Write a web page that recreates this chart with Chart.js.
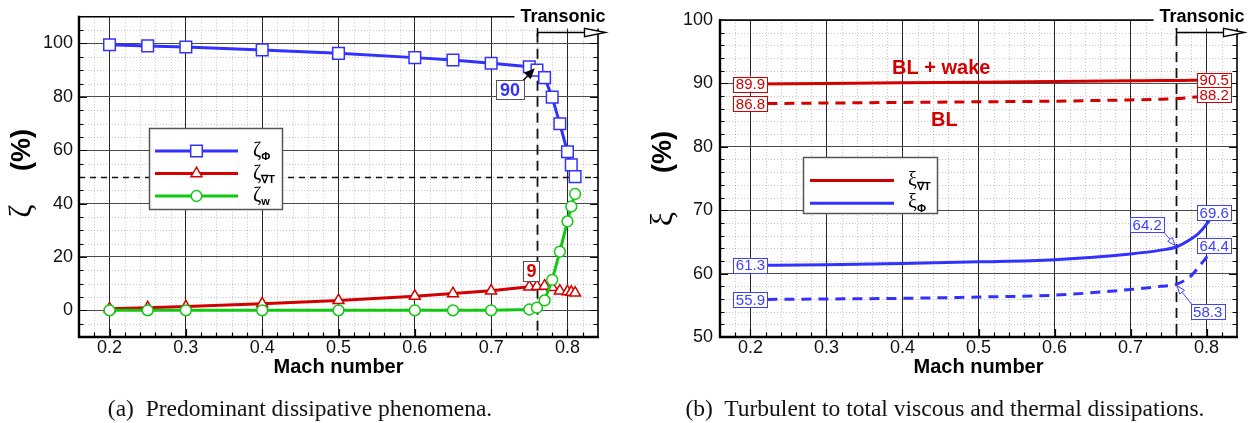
<!DOCTYPE html>
<html>
<head>
<meta charset="utf-8">
<script src="https://cdn.jsdelivr.net/npm/chart.js@4.4.1/dist/chart.umd.min.js"></script>
<style>
  html, body { margin: 0; padding: 0; background: #fff; }
  #wrap { position: relative; width: 1255px; height: 423px; overflow: hidden; }
  #wrap canvas { position: absolute; left: 0; top: 0; }
  .caption {
    position: absolute; top: 395px; white-space: pre; color: #111; line-height: 26px;
    font: 23.5px "Liberation Serif", "Times New Roman", serif;
    transform: translateX(-50%);
  }
</style>
</head>
<body>
<div id="wrap">
  <canvas id="zeta" width="1255" height="423"></canvas>
  <canvas id="xi" width="1255" height="423"></canvas>
  <div class="caption" style="left:300px">(a)  Predominant dissipative phenomena.</div>
  <div class="caption" style="left:945px">(b)  Turbulent to total viscous and thermal dissipations.</div>
</div>
<script>
// tick values
var machTicks = [0.2, 0.3, 0.4, 0.5, 0.6, 0.7, 0.8];
var zetaTicks = [0, 20, 40, 60, 80, 100];
var xiTicks   = [50, 60, 70, 80, 90, 100];

// (a) share of each dissipation mechanism, per computed Mach number
var machRuns  = [0.2, 0.25, 0.3, 0.4, 0.5, 0.6, 0.65, 0.7, 0.75, 0.76, 0.77, 0.78, 0.79, 0.8, 0.805, 0.81];
var zetaPhi   = [99.5, 99.1, 98.7, 97.6, 96.3, 94.7, 93.8, 92.6, 91.3, 90, 87.2, 79.9, 69.9, 59.4, 54.5, 50.1];
var zetaGradT = [0.6, 1.0, 1.4, 2.5, 3.7, 5.3, 6.3, 7.3, 8.8, 9, 9.1, 8.6, 7.3, 7.0, 6.8, 6.5];
var zetaWave  = [0, 0, 0, 0, 0, 0, 0, 0, 0.3, 1.0, 3.7, 11.4, 22.0, 33.3, 38.9, 43.6];

// (b) turbulent share of viscous / thermal dissipation
var machXi      = [0.2, 0.3, 0.4, 0.5, 0.6, 0.7, 0.74, 0.76, 0.78, 0.79, 0.8, 0.81];
var xiGradTWake = [89.9, 90.0, 90.1, 90.2, 90.3, 90.4, 90.45, 90.45, 90.5, 90.5, 90.5, 90.5];
var xiGradTBL   = [86.8, 86.9, 87.0, 87.1, 87.2, 87.4, 87.5, 87.6, 87.8, 87.9, 88.0, 88.2];
var xiPhiWake   = [61.3, 61.4, 61.6, 61.85, 62.2, 63.1, 63.7, 64.2, 65.5, 66.4, 67.8, 69.6];
var xiPhiBL     = [55.9, 56.0, 56.1, 56.3, 56.6, 57.5, 58.0, 58.3, 59.7, 61.1, 62.6, 64.4];

var transonicMach = 0.76;
var halfLevel = 50;

var BLUE  = '#3232ff';
var BLUE2 = '#4040ff';
var RED   = '#d40000';
var GREEN = '#12c812';
var SANS  = '"Liberation Sans", Arial, Helvetica, sans-serif';
var SERIF = '"Liberation Serif", "Times New Roman", serif';

Chart.defaults.font.family = SANS;

function pts(xs, ys) {
    return xs.map(function (v, i) { return { x: v, y: ys[i] }; });
}

function marker(ctx, style, r, x, y, color) {
    ctx.save();
    ctx.fillStyle = '#fff';
    ctx.strokeStyle = color;
    ctx.lineWidth = 1.5;
    ctx.beginPath();
    if (style === 'rect') {
        var s = r * Math.SQRT1_2;
        ctx.rect(x - s, y - s, 2 * s, 2 * s);
    } else if (style === 'triangle') {
        for (var k = 0; k < 3; k++) {
            var a = -Math.PI / 2 + k * 2 * Math.PI / 3;
            if (k === 0) ctx.moveTo(x + r * Math.cos(a), y + r * Math.sin(a));
            else ctx.lineTo(x + r * Math.cos(a), y + r * Math.sin(a));
        }
        ctx.closePath();
    } else {
        ctx.arc(x, y, r, 0, 2 * Math.PI);
    }
    ctx.fill();
    ctx.stroke();
    ctx.restore();
}

function tag(ctx, text, cx, cy, opts) {
    ctx.save();
    ctx.font = opts.font;
    var w = ctx.measureText(text).width + opts.pad * 2;
    var h = opts.h;
    ctx.fillStyle = '#fff';
    ctx.fillRect(cx - w / 2, cy - h / 2, w, h);
    ctx.strokeStyle = opts.border;
    ctx.lineWidth = 1;
    ctx.strokeRect(Math.round(cx - w / 2) + 0.5, Math.round(cy - h / 2) + 0.5, Math.round(w), Math.round(h));
    ctx.fillStyle = opts.color;
    ctx.textAlign = 'center';
    ctx.textBaseline = 'middle';
    ctx.fillText(text, cx, cy + 1);
    ctx.restore();
}

function arrow(ctx, x0, y0, x1, y1, color, open, len, half) {
    var ang = Math.atan2(y1 - y0, x1 - x0);
    var bx = x1 - len * Math.cos(ang), by = y1 - len * Math.sin(ang);
    ctx.save();
    ctx.strokeStyle = color;
    ctx.lineWidth = open ? 1 : 1.5;
    ctx.beginPath();
    ctx.moveTo(x0, y0);
    ctx.lineTo(bx, by);
    ctx.stroke();
    ctx.beginPath();
    ctx.moveTo(x1, y1);
    ctx.lineTo(bx + half * Math.sin(ang), by - half * Math.cos(ang));
    ctx.lineTo(bx - half * Math.sin(ang), by + half * Math.cos(ang));
    ctx.closePath();
    ctx.fillStyle = open ? '#fff' : color;
    ctx.fill();
    ctx.stroke();
    ctx.restore();
}

function symbolText(ctx, sym, sub, x, y) {
    ctx.save();
    ctx.fillStyle = '#000';
    ctx.textAlign = 'left';
    ctx.textBaseline = 'alphabetic';
    ctx.font = '20px ' + SERIF;
    ctx.fillText(sym, x, y + 5);
    var w = ctx.measureText(sym).width;
    ctx.font = 'bold 11px ' + SANS;
    ctx.fillText(sub, x + w, y + 9);
    ctx.restore();
}

function legendBox(ctx, box, datasets, line0, line1, textX, rowY, rowStep) {
    ctx.save();
    ctx.fillStyle = '#fff';
    ctx.fillRect(box.x, box.y, box.w, box.h);
    ctx.strokeStyle = '#555';
    ctx.lineWidth = 1.5;
    ctx.strokeRect(box.x, box.y, box.w, box.h);
    var row = 0;
    datasets.forEach(function (ds) {
        if (!ds.legendSym) return;
        var y = rowY + row * rowStep;
        ctx.strokeStyle = ds.borderColor;
        ctx.lineWidth = 3;
        ctx.beginPath();
        ctx.moveTo(line0, y);
        ctx.lineTo(line1, y);
        ctx.stroke();
        if (ds.pointRadius > 0) {
            marker(ctx, ds.pointStyle, ds.pointRadius, (line0 + line1) / 2, y, ds.borderColor);
        }
        symbolText(ctx, ds.legendSym, ds.legendSub, textX, y);
        row++;
    });
    ctx.restore();
}

function yTitle(ctx, x, sym, symY, unitY) {
    ctx.save();
    ctx.fillStyle = '#000';
    ctx.textAlign = 'center';
    ctx.textBaseline = 'middle';
    ctx.translate(x, unitY);
    ctx.rotate(-Math.PI / 2);
    ctx.font = 'bold 27px ' + SANS;
    ctx.fillText('(%)', 0, 0);
    ctx.restore();
    ctx.save();
    ctx.fillStyle = '#000';
    ctx.textAlign = 'center';
    ctx.textBaseline = 'middle';
    ctx.translate(x, symY);
    ctx.rotate(-Math.PI / 2);
    ctx.font = '32px ' + SERIF;
    ctx.fillText(sym, 0, 0);
    ctx.restore();
}

// minor dotted grid, inward ticks, reference lines, frame, transonic arrow
var plotFrame = {
    id: 'plotFrame',
    beforeDatasetsDraw: function (chart, args, o) {
        var ctx = chart.ctx, a = chart.chartArea;
        var x = chart.scales.x, y = chart.scales.y;
        var i, v, p;
        ctx.save();
        ctx.strokeStyle = 'rgba(0,0,0,0.22)';
        ctx.lineWidth = 1;
        ctx.setLineDash([1, 2]);
        ctx.beginPath();
        for (i = 9; i < 42; i++) {
            if (i % 5 === 0) continue;
            p = Math.round(x.getPixelForValue(i * 0.02)) + 0.5;
            ctx.moveTo(p, a.top); ctx.lineTo(p, a.bottom);
        }
        for (v = o.yMin + o.yMinor; v < o.yMax; v += o.yMinor) {
            if (v % o.yMajor === 0) continue;
            p = Math.round(y.getPixelForValue(v)) + 0.5;
            ctx.moveTo(a.left, p); ctx.lineTo(a.right, p);
        }
        ctx.stroke();
        ctx.setLineDash([]);

        // ticks pointing into the plot
        ctx.strokeStyle = '#000';
        ctx.lineWidth = 1.2;
        ctx.beginPath();
        for (i = 9; i < 42; i++) {
            p = Math.round(x.getPixelForValue(i * 0.02)) + 0.5;
            var lx = (i % 5 === 0) ? 8 : 4.5;
            ctx.moveTo(p, a.bottom); ctx.lineTo(p, a.bottom - lx);
        }
        for (v = o.yMin + o.yMinor; v < o.yMax; v += o.yMinor) {
            p = Math.round(y.getPixelForValue(v)) + 0.5;
            var ly = (v % o.yMajor === 0) ? 8 : 4.5;
            ctx.moveTo(a.left, p); ctx.lineTo(a.left + ly, p);
            ctx.moveTo(a.right, p); ctx.lineTo(a.right - ly, p);
        }
        ctx.stroke();

        // onset of transonic regime
        var px = Math.round(x.getPixelForValue(transonicMach)) + 0.5;
        ctx.strokeStyle = '#111';
        ctx.lineWidth = 1.8;
        ctx.setLineDash([10, 6]);
        ctx.beginPath();
        ctx.moveTo(px, a.top);
        ctx.lineTo(px, a.bottom);
        ctx.stroke();
        if (o.half) {
            var py = Math.round(y.getPixelForValue(halfLevel)) + 0.5;
            ctx.lineWidth = 1.3;
            ctx.setLineDash([6, 5]);
            ctx.beginPath();
            ctx.moveTo(a.left, py);
            ctx.lineTo(a.right, py);
            ctx.stroke();
        }
        ctx.restore();
    },
    afterDatasetsDraw: function (chart) {
        var ctx = chart.ctx, a = chart.chartArea;
        ctx.save();
        ctx.strokeStyle = '#000';
        ctx.lineWidth = 1.6;
        ctx.beginPath();
        ctx.moveTo(a.left, a.top); ctx.lineTo(a.right, a.top); ctx.lineTo(a.right, a.bottom);
        ctx.stroke();
        ctx.lineWidth = 2.4;
        ctx.beginPath();
        ctx.moveTo(a.left, a.top - 1); ctx.lineTo(a.left, a.bottom); ctx.lineTo(a.right + 1, a.bottom);
        ctx.stroke();
        ctx.restore();
    },
    afterDraw: function (chart) {
        var ctx = chart.ctx, a = chart.chartArea, x = chart.scales.x;
        var px = Math.round(x.getPixelForValue(transonicMach)) + 0.5;
        var tip = a.right + 7.5, ay = 32.5;
        ctx.save();
        ctx.font = 'bold 18px ' + SANS;
        var tw = ctx.measureText('Transonic').width;
        ctx.fillStyle = '#fff';
        ctx.fillRect(tip - tw - 6, 0, tw + 20, 28.5);
        ctx.fillStyle = '#000';
        ctx.textAlign = 'right';
        ctx.textBaseline = 'middle';
        ctx.fillText('Transonic', tip, 17.5);
        ctx.strokeStyle = '#000';
        ctx.lineWidth = 1.5;
        ctx.beginPath();
        ctx.moveTo(px, ay - 4.5); ctx.lineTo(px, ay + 4);
        ctx.moveTo(px, ay); ctx.lineTo(tip - 21, ay);
        ctx.stroke();
        ctx.lineWidth = 1.3;
        ctx.beginPath();
        ctx.moveTo(tip, ay);
        ctx.lineTo(tip - 21, ay - 4.2);
        ctx.lineTo(tip - 21, ay + 4.2);
        ctx.closePath();
        ctx.fillStyle = '#fff';
        ctx.fill();
        ctx.stroke();
        ctx.restore();
    }
};

function axes(yMin, yMax, yTicks, yWidth, yPad) {
    return {
        x: {
            type: 'linear', min: 0.16, max: 0.84,
            afterBuildTicks: function (s) { s.ticks = machTicks.map(function (v) { return { value: v }; }); },
            afterFit: function (s) { s.height = 86; },
            ticks: {
                autoSkip: false, maxRotation: 0, padding: 0, color: '#111',
                font: { size: 18 },
                callback: function (v) { return Number(v).toFixed(1); }
            },
            grid: { color: '#262626', lineWidth: 1, drawTicks: false },
            border: { display: false },
            title: {
                display: true, text: 'Mach number', color: '#000',
                font: { size: 20, weight: 'bold' },
                padding: { top: 0, bottom: 44 }
            }
        },
        y: {
            type: 'linear', min: yMin, max: yMax,
            afterBuildTicks: function (s) { s.ticks = yTicks.map(function (v) { return { value: v }; }); },
            afterFit: function (s) { s.width = yWidth; },
            ticks: { padding: yPad, color: '#111', font: { size: 18 } },
            grid: { color: '#4a4a4a', lineWidth: 1, drawTicks: false },
            border: { display: false }
        }
    };
}

// (a) labels, legend and axis title
var zetaNotes = {
    id: 'zetaNotes',
    afterDraw: function (chart) {
        var ctx = chart.ctx, x = chart.scales.x, y = chart.scales.y;
        var k = machRuns.indexOf(transonicMach);
        var px = x.getPixelForValue(transonicMach);
        var pyPhi = y.getPixelForValue(zetaPhi[k]);
        var pyT = y.getPixelForValue(zetaGradT[k]);

        arrow(ctx, px - 14, pyPhi + 10.5, px - 3.5, pyPhi - 0.5, '#000', false, 8, 3.5);
        tag(ctx, zetaPhi[k].toFixed(0), px - 27, pyPhi + 19.5,
            { font: 'bold 18px ' + SANS, pad: 4, h: 19, border: '#555', color: BLUE });
        tag(ctx, zetaGradT[k].toFixed(0), px - 5.5, pyT - 15,
            { font: 'bold 18px ' + SANS, pad: 3, h: 20, border: '#555', color: RED });

        legendBox(ctx, { x: 149.5, y: 128.5, w: 133, h: 81 }, chart.data.datasets, 155, 238, 253, 151, 22.5);
        yTitle(ctx, 23, 'ζ', 211, 150);
    }
};

// (b) value tags, curve names, legend and axis title
var xiNotes = {
    id: 'xiNotes',
    afterDraw: function (chart) {
        var ctx = chart.ctx, x = chart.scales.x, y = chart.scales.y;
        var last = machXi.length - 1;
        var k = machXi.indexOf(transonicMach);
        var small = function (c) { return { font: '15px ' + SANS, pad: 2.5, h: 15, border: c, color: c }; };

        [[xiGradTWake, RED], [xiGradTBL, RED], [xiPhiWake, BLUE2], [xiPhiBL, BLUE2]].forEach(function (s) {
            tag(ctx, s[0][0].toFixed(1), x.getPixelForValue(machXi[0]), y.getPixelForValue(s[0][0]), small(s[1]));
            tag(ctx, s[0][last].toFixed(1), x.getPixelForValue(machXi[last]), y.getPixelForValue(s[0][last]), small(s[1]));
        });

        var px = x.getPixelForValue(transonicMach);
        var pa = y.getPixelForValue(xiPhiWake[k]);
        var pb = y.getPixelForValue(xiPhiBL[k]);
        arrow(ctx, px - 12.5, pa - 15, px - 1, pa - 1.5, BLUE2, true, 8, 3);
        tag(ctx, xiPhiWake[k].toFixed(1), px - 29, pa - 22.5, small(BLUE2));
        arrow(ctx, px + 16, pb + 20.5, px + 1, pb + 1.5, BLUE2, true, 8, 3);
        tag(ctx, xiPhiBL[k].toFixed(1), px + 31.5, pb + 27.5, small(BLUE2));

        ctx.save();
        ctx.fillStyle = RED;
        ctx.font = 'bold 20px ' + SANS;
        ctx.textAlign = 'center';
        ctx.textBaseline = 'middle';
        ctx.fillText('BL + wake', x.getPixelForValue(0.451), y.getPixelForValue(92.4));
        ctx.fillText('BL', x.getPixelForValue(0.455), y.getPixelForValue(84.2));
        ctx.restore();

        legendBox(ctx, { x: 803.5, y: 157.5, w: 134, h: 56 }, chart.data.datasets, 810, 894, 908, 180.5, 22.7);
        yTitle(ctx, 664, 'ξ', 219, 152);
    }
};

new Chart(document.getElementById('zeta'), {
    type: 'line',
    data: {
        datasets: [
            {
                data: pts(machRuns, zetaPhi), borderColor: BLUE, borderWidth: 3,
                pointStyle: 'rect', pointRadius: 8.2, pointBorderWidth: 1.5,
                pointBackgroundColor: '#fff', pointBorderColor: BLUE,
                tension: 0, order: 0, legendSym: 'ζ', legendSub: 'Φ'
            },
            {
                data: pts(machRuns, zetaGradT), borderColor: RED, borderWidth: 3,
                pointStyle: 'triangle', pointRadius: 6.3, pointBorderWidth: 1.5,
                pointBackgroundColor: '#fff', pointBorderColor: RED,
                tension: 0, order: 2, legendSym: 'ζ', legendSub: '∇T'
            },
            {
                data: pts(machRuns, zetaWave), borderColor: GREEN, borderWidth: 3,
                pointStyle: 'circle', pointRadius: 5.4, pointBorderWidth: 1.5,
                pointBackgroundColor: '#fff', pointBorderColor: GREEN,
                tension: 0, order: 1, legendSym: 'ζ', legendSub: 'w'
            }
        ]
    },
    options: {
        responsive: false, animation: false, devicePixelRatio: 1,
        layout: { padding: { left: 0, top: 14, right: 657, bottom: 0 } },
        plugins: {
            legend: { display: false }, tooltip: { enabled: false },
            plotFrame: { yMin: -10, yMax: 110, yMinor: 5, yMajor: 20, half: true }
        },
        scales: axes(-10, 110, zetaTicks, 79, 6)
    },
    plugins: [plotFrame, zetaNotes]
});

new Chart(document.getElementById('xi'), {
    type: 'line',
    data: {
        datasets: [
            {
                data: pts(machXi, xiGradTWake), borderColor: RED, borderWidth: 3, pointRadius: 0,
                cubicInterpolationMode: 'monotone', legendSym: 'ξ', legendSub: '∇T'
            },
            {
                data: pts(machXi, xiGradTBL), borderColor: RED, borderWidth: 3, pointRadius: 0,
                borderDash: [10, 7], cubicInterpolationMode: 'monotone'
            },
            {
                data: pts(machXi, xiPhiWake), borderColor: BLUE, borderWidth: 3, pointRadius: 0,
                cubicInterpolationMode: 'monotone', legendSym: 'ξ', legendSub: 'Φ'
            },
            {
                data: pts(machXi, xiPhiBL), borderColor: BLUE, borderWidth: 3, pointRadius: 0,
                borderDash: [10, 7], cubicInterpolationMode: 'monotone'
            }
        ]
    },
    options: {
        responsive: false, animation: false, devicePixelRatio: 1,
        layout: { padding: { left: 627, top: 20, right: 18, bottom: 0 } },
        plugins: {
            legend: { display: false }, tooltip: { enabled: false },
            plotFrame: { yMin: 50, yMax: 100, yMinor: 2, yMajor: 10, half: false }
        },
        scales: axes(50, 100, xiTicks, 93, 7)
    },
    plugins: [plotFrame, xiNotes]
});
</script>
</body>
</html>
